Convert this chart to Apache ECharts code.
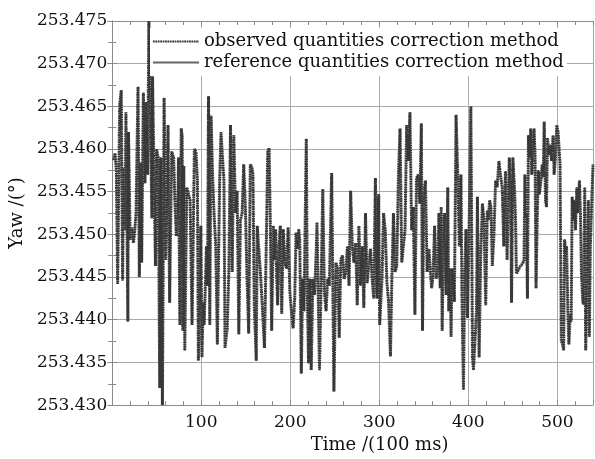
<!DOCTYPE html>
<html>
<head>
<meta charset="utf-8">
<script src="https://cdn.jsdelivr.net/npm/echarts@6/dist/echarts.min.js"></script>
<style>
  html, body { margin: 0; padding: 0; background: #fff; }
  #chart { width: 595px; height: 459px; }
</style>
</head>
<body>
<div id="chart"></div>
<script>
// Time axis values (x 100 ms)
const time = [
  1.7, 3.2, 4.7, 6.1, 8.4, 10.2, 11.7, 12.8, 14.6, 15.4, 17.6, 18.3, 20.2, 22.4, 23.9, 25.4, 26.8,
  29.0, 30.5, 32.0, 33.1, 35.0, 36.8, 37.9, 39.8, 41.2, 42.4, 44.6, 45.3, 46.8, 48.6, 49.8, 51.6,
  53.4, 54.6, 56.4, 58.3, 60.1, 62.0, 62.7, 64.5, 66.8, 69.0, 70.5, 72.0, 73.8, 74.5, 76.0, 77.5,
  78.6, 79.3, 80.4, 81.5, 83.8, 86.0, 87.5, 89.7, 92.3, 94.1, 95.7, 96.8, 99.6, 100.8, 102.2, 103.3,
  105.9, 107.0, 108.2, 109.6, 111.1, 112.6, 114.4, 116.3, 118.1, 120.7, 122.2, 123.7, 125.5, 126.7,
  129.2, 131.0, 132.9, 134.8, 136.6, 138.5, 140.3, 142.2, 144.0, 145.9, 147.7, 149.6, 151.4, 153.3,
  155.1, 157.0, 158.1, 159.6, 161.8, 162.9, 164.4, 166.2, 168.1, 171.0, 172.9, 174.7, 176.2, 177.5,
  179.1, 181.0, 182.1, 183.6, 184.7, 185.8, 187.3, 188.8, 190.4, 192.1, 193.9, 195.8, 197.6, 199.5,
  201.3, 203.2, 205.0, 206.5, 208.0, 209.5, 210.6, 212.4, 213.9, 215.4, 218.0, 219.1, 220.5, 222.0,
  223.5, 225.4, 227.2, 229.1, 230.0, 232.8, 234.6, 236.5, 238.3, 240.2, 242.0, 243.9, 246.5, 249.0,
  251.3, 253.1, 255.0, 256.8, 258.7, 260.5, 262.4, 264.2, 266.0, 267.8, 269.7, 271.5, 273.4, 275.2,
  277.1, 278.9, 280.8, 282.6, 284.5, 286.3, 288.2, 290.0, 291.9, 293.7, 295.6, 297.4, 299.3, 300.4,
  303.0, 304.8, 306.7, 308.5, 310.4, 312.5, 314.1, 315.9, 317.8, 319.6, 321.5, 323.3, 325.2, 327.0,
  328.9, 330.7, 332.6, 334.4, 336.3, 338.1, 340.0, 341.8, 343.7, 345.5, 347.2, 348.5, 350.0, 351.8,
  353.7, 355.8, 357.3, 358.8, 360.3, 362.1, 364.0, 365.8, 366.9, 368.4, 369.5, 370.6, 372.1, 373.2,
  375.1, 376.9, 378.0, 379.5, 380.6, 381.7, 383.2, 384.3, 386.2, 388.0, 389.9, 391.7, 392.8, 394.5,
  395.8, 397.3, 399.1, 401.0, 402.8, 404.7, 405.8, 407.5, 409.1, 410.2, 412.1, 413.9, 415.8, 417.6,
  419.5, 421.3, 422.4, 423.9, 425.4, 426.9, 428.7, 430.6, 432.4, 434.3, 436.1, 438.0, 439.8, 441.7,
  443.5, 446.0, 447.5, 448.5, 450.0, 452.0, 453.0, 454.0, 456.0, 458.0, 461.0, 462.5, 463.5, 464.2,
  465.0, 466.4, 467.5, 468.6, 470.1, 471.2, 472.3, 473.8, 474.9, 476.0, 477.5, 478.6, 479.7, 481.5,
  483.0, 484.1, 485.2, 486.7, 487.8, 488.9, 490.4, 491.9, 493.4, 495.2, 496.3, 497.8, 499.3, 500.8,
  501.9, 503.0, 504.4, 505.9, 507.0, 508.1, 509.2, 510.3, 511.8, 512.9, 514.4, 515.5, 516.6, 518.1,
  519.2, 520.3, 521.8, 522.9, 524.8, 525.9, 527.0, 528.5, 529.6, 530.7, 531.8, 533.3, 534.8, 535.9,
  537.0, 538.5, 540.0
]

// Yaw angle (deg), observed quantities correction method
const observedYaw = [
  253.4587, 253.4595, 253.4575, 253.4442, 253.4652, 253.4669, 253.4446, 253.4578, 253.4505, 253.4643,
  253.4398, 253.4620, 253.4494, 253.4508, 253.4490, 253.4505, 253.4526,
  253.4673, 253.4450, 253.4584, 253.4467, 253.4666, 253.4560, 253.4655, 253.4570, 253.4750, 253.4750,
  253.4519, 253.4685, 253.4685, 253.4463, 253.4600, 253.4590,
  253.4320, 253.4590, 253.4300, 253.4660, 253.4470, 253.4580, 253.4628, 253.4420, 253.4597, 253.4590,
  253.4536, 253.4498, 253.4540, 253.4590, 253.4394, 253.4624,
  253.4615, 253.4387, 253.4580, 253.4364, 253.4555, 253.4555, 253.4540, 253.4394, 253.4600, 253.4597,
  253.4563, 253.4352, 253.4510, 253.4356, 253.4420, 253.4394,
  253.4486, 253.4440, 253.4662, 253.4394, 253.4639, 253.4574, 253.4524, 253.4486, 253.4371, 253.4563,
  253.4620, 253.4593, 253.4563, 253.4367,
  253.4390, 253.4456, 253.4628, 253.4456, 253.4616, 253.4525, 253.4551, 253.4383, 253.4517, 253.4524,
  253.4582, 253.4532, 253.4449, 253.4384,
  253.4582, 253.4578, 253.4570, 253.4414, 253.4352, 253.4510, 253.4486, 253.4460, 253.4425, 253.4367,
  253.4480, 253.4597, 253.4601, 253.4520,
  253.4387, 253.4510, 253.4470, 253.4506, 253.4452, 253.4417, 253.4486, 253.4510, 253.4407, 253.4506,
  253.4467, 253.4460, 253.4508, 253.4433,
  253.4410, 253.4390, 253.4425, 253.4502, 253.4483, 253.4506, 253.4494, 253.4337, 253.4448, 253.4410,
  253.4612, 253.4433, 253.4349, 253.4448,
  253.4341, 253.4448, 253.4429, 253.4479, 253.4514, 253.4341, 253.4440, 253.4553, 253.4433, 253.4410,
  253.4448, 253.4440, 253.4572, 253.4316,
  253.4467, 253.4460, 253.4379, 253.4471, 253.4475, 253.4448, 253.4456, 253.4486, 253.4440, 253.4551,
  253.4486, 253.4467, 253.4490, 253.4417,
  253.4510, 253.4440, 253.4486, 253.4414, 253.4525, 253.4443, 253.4463, 253.4483, 253.4448, 253.4425,
  253.4566, 253.4425, 253.4547, 253.4394,
  253.4448, 253.4525, 253.4505, 253.4444, 253.4421, 253.4357, 253.4448, 253.4525, 253.4456, 253.4463,
  253.4570, 253.4624, 253.4467, 253.4486,
  253.4505, 253.4628, 253.4586, 253.4643, 253.4505, 253.4532, 253.4406, 253.4566, 253.4570, 253.4536,
  253.4630, 253.4387, 253.4547, 253.4563,
  253.4456, 253.4483, 253.4456, 253.4437, 253.4452, 253.4510, 253.4448, 253.4456, 253.4525, 253.4437,
  253.4532, 253.4387, 253.4500, 253.4525,
  253.4429, 253.4555, 253.4410, 253.4460, 253.4380, 253.4460, 253.4460, 253.4421, 253.4640, 253.4574,
  253.4486, 253.4570, 253.4429, 253.4318,
  253.4448, 253.4506, 253.4402, 253.4517, 253.4650, 253.4356, 253.4341, 253.4339, 253.4410, 253.4544,
  253.4356, 253.4475, 253.4536, 253.4517,
  253.4417, 253.4528, 253.4517, 253.4540, 253.4532, 253.4463, 253.4498, 253.4563, 253.4555, 253.4586,
  253.4570, 253.4555, 253.4486, 253.4574,
  253.4470, 253.4590, 253.4555, 253.4420, 253.4590, 253.4550, 253.4516, 253.4454, 253.4458, 253.4462,
  253.4466, 253.4470, 253.4570, 253.4520,
  253.4525, 253.4425, 253.4616, 253.4590, 253.4624, 253.4570, 253.4590, 253.4624, 253.4593, 253.4437,
  253.4525, 253.4575, 253.4547, 253.4563,
  253.4582, 253.4567, 253.4632, 253.4540, 253.4532, 253.4613, 253.4593, 253.4605, 253.4586, 253.4616,
  253.4570, 253.4590, 253.4628, 253.4620,
  253.4601, 253.4582, 253.4375, 253.4371, 253.4364, 253.4494, 253.4479, 253.4486, 253.4410, 253.4371,
  253.4406, 253.4398, 253.4544, 253.4517,
  253.4540, 253.4505, 253.4555, 253.4525, 253.4563, 253.4525, 253.4456, 253.4421, 253.4418, 253.4555,
  253.4364, 253.4448, 253.4540, 253.4380,
  253.4486, 253.4536, 253.4582
]

// the reference-quantities curve lies under the observed one in the picture
const referenceYaw = observedYaw.slice()

const seriesNames = [
  'observed quantities correction method',
  'reference quantities correction method',
]

const serif = 'DejaVu Serif'
const axisGray = '#8a8a8a'
const gridGray = '#aaaaaa'

const chart = echarts.init(document.getElementById('chart'))

const pairs = arr => time.map((t, i) => [t, arr[i]])

const option = {
  animation: false,
  backgroundColor: '#fff',
  grid: { left: 106, right: 2, top: 21, bottom: 46 },
  legend: {
    orient: 'vertical',
    left: 150,
    top: 28,
    itemGap: 0,
    itemWidth: 46,
    itemHeight: 12,
    padding: [3, 3, 3, 2],
    backgroundColor: '#fff',
    // hide the marker dot, keep only the line sample
    itemStyle: { color: 'rgba(0,0,0,0)', borderWidth: 0, opacity: 0 },
    textStyle: { fontFamily: serif, fontSize: 18, color: '#111', lineHeight: 21 },
    data: seriesNames,
  },
  xAxis: [
    {
      type: 'value',
      min: 0,
      max: 540,
      interval: 100,
      name: 'Time /(100 ms)',
      nameLocation: 'middle',
      nameGap: 27,
      nameTextStyle: { fontFamily: serif, fontSize: 18, color: '#111', padding: [0, 0, 0, 54] },
      axisLine: { show: true, lineStyle: { color: axisGray } },
      axisTick: { show: true, inside: true, length: 5, lineStyle: { color: axisGray } },
      minorTick: { show: true, splitNumber: 5, length: 4, lineStyle: { color: axisGray } },
      splitLine: { show: true, lineStyle: { color: gridGray, width: 1 } },
      axisLabel: {
        fontFamily: serif, fontSize: 17, color: '#111', margin: 9,
        showMinLabel: false, showMaxLabel: false,
      },
    },
    {
      type: 'value',
      position: 'top',
      min: 0,
      max: 540,
      interval: 100,
      axisLine: { show: true, lineStyle: { color: axisGray } },
      axisTick: { show: true, inside: true, length: 5, lineStyle: { color: axisGray } },
      minorTick: { show: true, splitNumber: 5, length: 4, lineStyle: { color: axisGray } },
      splitLine: { show: false },
      axisLabel: { show: false },
    },
  ],
  yAxis: [
    {
      type: 'value',
      min: 253.43,
      max: 253.475,
      interval: 0.005,
      name: 'Yaw /(°)',
      nameLocation: 'middle',
      nameGap: 70,
      nameTextStyle: { fontFamily: serif, fontSize: 18, color: '#111' },
      axisLine: { show: true, lineStyle: { color: axisGray } },
      axisTick: { show: true, inside: true, length: 5, lineStyle: { color: axisGray } },
      minorTick: { show: true, splitNumber: 2, length: 4, lineStyle: { color: axisGray } },
      splitLine: { show: true, lineStyle: { color: gridGray, width: 1 } },
      axisLabel: {
        fontFamily: serif, fontSize: 17, color: '#111', margin: 5,
        formatter: v => v.toFixed(3),
      },
    },
    {
      type: 'value',
      position: 'right',
      min: 253.43,
      max: 253.475,
      interval: 0.005,
      axisLine: { show: true, lineStyle: { color: axisGray } },
      axisTick: { show: true, inside: true, length: 5, lineStyle: { color: axisGray } },
      minorTick: { show: true, splitNumber: 2, length: 4, lineStyle: { color: axisGray } },
      splitLine: { show: false },
      axisLabel: { show: false },
    },
  ],
  series: [
    {
      name: seriesNames[0],
      type: 'line',
      xAxisIndex: 0,
      yAxisIndex: 0,
      symbol: 'none',
      z: 3,
      lineStyle: { color: '#383838', width: 3, type: [1.8, 0.6] },
      itemStyle: { color: '#383838' },
      data: pairs(observedYaw),
    },
    {
      name: seriesNames[1],
      type: 'line',
      xAxisIndex: 0,
      yAxisIndex: 0,
      symbol: 'none',
      z: 2,
      lineStyle: { color: '#666', width: 1 },
      itemStyle: { color: '#666' },
      data: pairs(referenceYaw),
    },
  ],
}

chart.setOption(option)
</script>
</body>
</html>
